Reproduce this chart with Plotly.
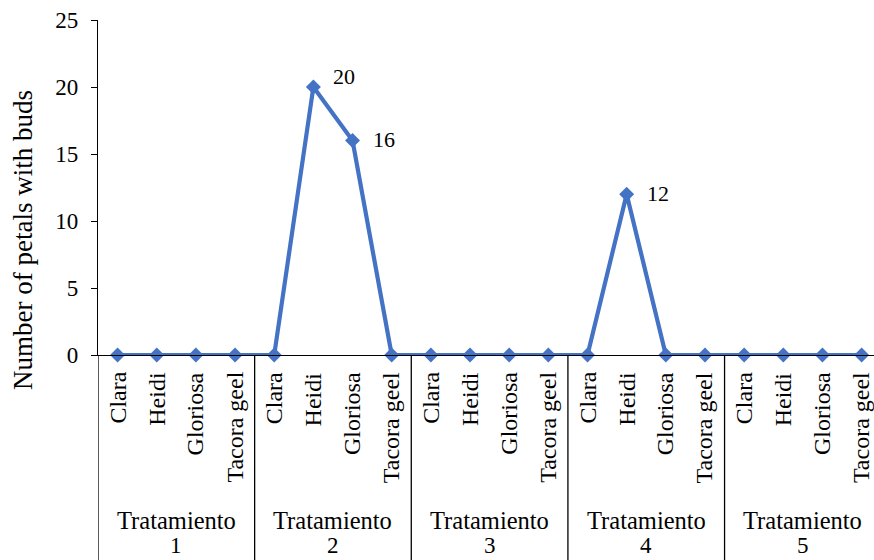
import plotly.graph_objects as go

# Varieties within each treatment and the treatment groups
varieties = ["Clara", "Heidi", "Gloriosa", "Tacora geel"]
treatments = ["Tratamiento 1", "Tratamiento 2", "Tratamiento 3",
              "Tratamiento 4", "Tratamiento 5"]

# Number of petals with buds, per treatment (Clara, Heidi, Gloriosa, Tacora geel)
t1 = [0, 0, 0, 0]
t2 = [0, 20, 16, 0]
t3 = [0, 0, 0, 0]
t4 = [0, 12, 0, 0]
t5 = [0, 0, 0, 0]
values = t1 + t2 + t3 + t4 + t5

y_ticks = [0, 5, 10, 15, 20, 25]

FONT = "Liberation Serif"
BLUE = "#4472C4"
W, H = 874, 560
M_L, M_T, M_B = 98, 20, 205

n_var = len(varieties)
n = len(values)
xs = list(range(n))

# category spacing in pixels and the visible right end of the x range
step_px = 39.16
x_right = (W - M_L) / step_px - 0.5

fig = go.Figure()
fig.add_trace(go.Scatter(
    x=xs, y=values, mode="lines+markers",
    line=dict(color=BLUE, width=4.2),
    marker=dict(symbol="diamond", size=11.5, color=BLUE),
    cliponaxis=False, showlegend=False, hoverinfo="skip",
))

annotations = []
plot_h = H - M_T - M_B
below = lambda px: -px / plot_h  # paper y for a pixel offset under the x axis

# data labels for the non-zero values
for i, v in enumerate(values):
    if v > 0:
        is_max = v == max(values)
        annotations.append(dict(
            x=i, y=v, xref="x", yref="y", text=str(v), showarrow=False,
            xanchor="left", yanchor="middle", xshift=18, yshift=11 if is_max else 1,
            font=dict(family=FONT, size=22, color="#000000")))

# rotated variety labels under each point
for i in xs:
    annotations.append(dict(
        x=i, y=below(15), xref="x", yref="paper", text=varieties[i % n_var],
        textangle=-90, showarrow=False, xanchor="center", yanchor="top",
        font=dict(family=FONT, size=24, color="#000000")))

# treatment group labels, split over two lines
for g, name in enumerate(treatments):
    word, num = name.rsplit(" ", 1)
    xc = g * n_var + (n_var - 1) / 2
    annotations.append(dict(
        x=xc, y=below(520 - (H - M_B)), xref="x", yref="paper",
        text=word, showarrow=False, xanchor="center", yanchor="middle",
        font=dict(family=FONT, size=24.5, color="#000000")))
    annotations.append(dict(
        x=xc, y=below(545 - (H - M_B)), xref="x", yref="paper",
        text=num, showarrow=False, xanchor="center", yanchor="middle",
        font=dict(family=FONT, size=23, color="#000000")))

# y-axis title
annotations.append(dict(
    x=-(M_L - 23) / (W - M_L), y=(H - M_B - 240) / plot_h, xref="paper", yref="paper",
    text="Number of petals with buds", textangle=-90, showarrow=False,
    xanchor="center", yanchor="middle",
    font=dict(family=FONT, size=27, color="#000000")))

# group separators extending below the axis
shapes = []
for g in range(len(treatments) + 1):
    xb = g * n_var - 0.5
    shapes.append(dict(type="line", xref="x", yref="paper",
                       x0=xb, x1=xb, y0=0, y1=below(M_B + 5),
                       line=dict(color="#000000", width=1.3)))

fig.update_layout(
    width=W, height=H,
    margin=dict(l=M_L, r=0, t=M_T, b=M_B),
    paper_bgcolor="white", plot_bgcolor="white",
    font=dict(family=FONT),
    annotations=annotations, shapes=shapes,
    xaxis=dict(range=[-0.5, x_right], showgrid=False, zeroline=False,
               showticklabels=False, ticks="", showline=True,
               linecolor="#000000", linewidth=1.3, fixedrange=True),
    yaxis=dict(range=[0, 25], tickvals=y_ticks, showgrid=False, zeroline=False,
               showline=True, linecolor="#000000", linewidth=1.3,
               ticks="outside", ticklen=6, tickcolor="#000000", tickwidth=1.3,
               ticklabelstandoff=8,
               tickfont=dict(family=FONT, size=23, color="#000000"),
               fixedrange=True),
)

fig.write_html("out.html")
